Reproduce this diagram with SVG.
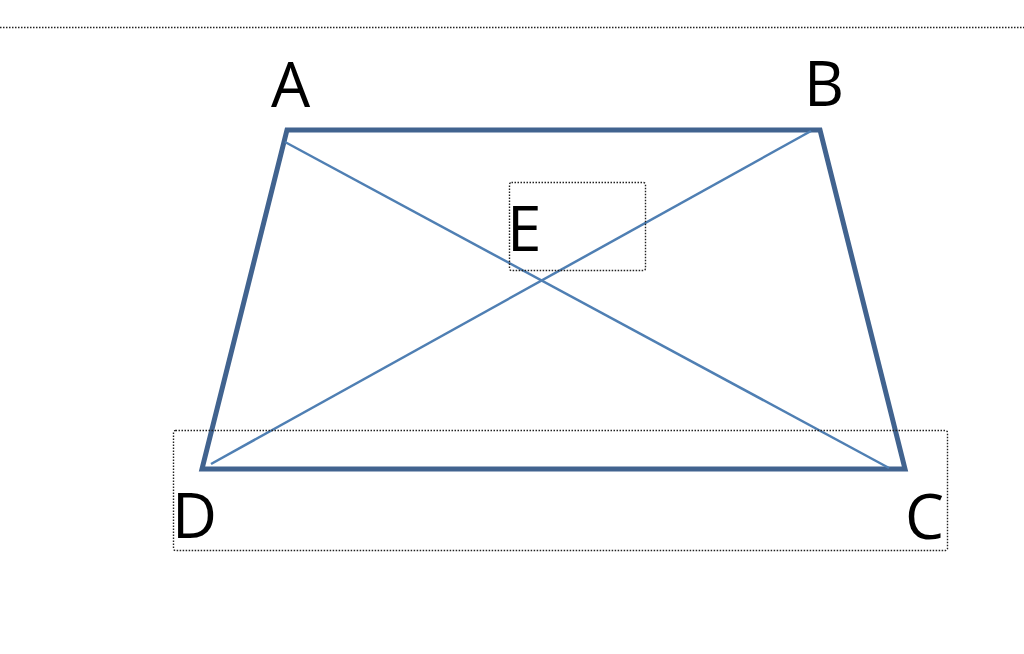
<svg xmlns="http://www.w3.org/2000/svg" width="1024" height="654" viewBox="0 0 1024 654">
<style>
.lbl{font-family:"Open Sans","Liberation Sans",sans-serif;font-size:62px;fill:#000}
.dot{fill:none;stroke:#222;stroke-width:1.4;stroke-dasharray:1.5 1.5}
.edge{stroke:#41638f;stroke-width:5;fill:none;stroke-linejoin:miter}
.diag{stroke:#4f7fb3;stroke-width:2.5;fill:none}
</style>
<rect width="1024" height="654" fill="#fff"/>
<line x1="0" y1="27.5" x2="1024" y2="27.5" class="dot"/>
<g id="connectors">
<polygon class="edge" points="287,130 820,130 905,469 202,469"/>
<line class="diag" x1="285" y1="142" x2="889" y2="468"/>
<line class="diag" x1="811" y1="131" x2="211" y2="464"/>
</g>
<g id="A"><text class="lbl" x="271" y="107">A</text></g>
<g id="B"><text class="lbl" x="804" y="106">B</text></g>
<g id="E"><rect class="dot" x="509.5" y="182.5" width="136" height="88" rx="2"/><text class="lbl" x="507" y="251">E</text></g>
<g id="DC"><rect class="dot" x="173.5" y="430.5" width="774" height="120" rx="2"/><text class="lbl" x="172" y="538">D</text><text class="lbl" x="905" y="539">C</text></g>
</svg>
